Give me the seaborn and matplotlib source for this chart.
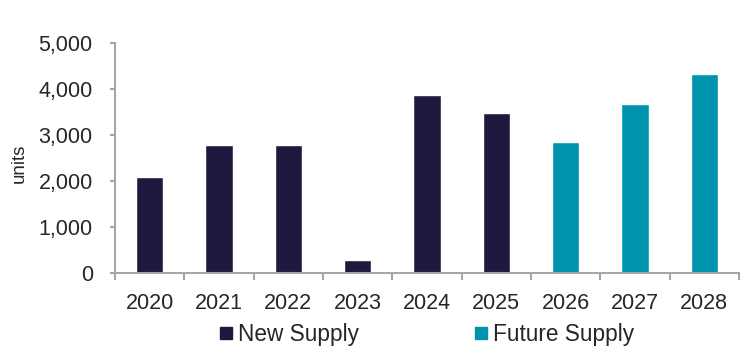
import pandas as pd
import numpy as np
import matplotlib.pyplot as plt
import seaborn as sns
from matplotlib.lines import Line2D

years = ["2020", "2021", "2022", "2023", "2024", "2025", "2026", "2027", "2028"]
units = [2100, 2800, 2800, 290, 3880, 3485, 2855, 3680, 4335]
supply = ["New Supply"] * 6 + ["Future Supply"] * 3
colors = {"New Supply": "#1F1940", "Future Supply": "#0093AE"}

df = pd.DataFrame({"year": years, "units": units, "type": supply})

sns.set_style("white")
plt.rcParams["font.family"] = ["Liberation Sans", "DejaVu Sans"]

fig = plt.figure(figsize=(7.53, 3.6), dpi=100)
ax = fig.add_axes([0.1527, 0.2408, 0.8287, 0.6389])
sns.barplot(data=df, x="year", y="units", hue="type", palette=colors,
            dodge=False, width=0.39, saturation=1, ax=ax, legend=False)

ax.set_xlim(-0.5, 8.5)
ax.set_ylim(0, 5000)
ax.set_yticks(range(0, 5001, 1000))
ax.set_yticklabels([f"{v:,}" for v in range(0, 5001, 1000)], fontsize=15.5, color="#262626")
ax.tick_params(axis="y", left=True, length=3.6, width=1.5, color="#A6A6A6", direction="out", pad=12.4)

# ticks at category boundaries, labels at centres
ax.set_xticks(np.arange(-0.5, 9, 1))
ax.set_xticklabels([])
ax.set_xticks(range(len(years)), minor=True)
ax.set_xticklabels(years, minor=True, fontsize=15.5, color="#262626")
ax.tick_params(axis="x", which="major", bottom=True, length=5, width=1.5, color="#A6A6A6", direction="out")
ax.tick_params(axis="x", which="minor", length=0, pad=14)

ax.set_xlabel("")
ax.set_ylabel("units", fontsize=13.5, color="#262626")
ax.yaxis.set_label_coords(-0.140, 0.478)

for s in ["top", "right"]:
    ax.spines[s].set_visible(False)
for s in ["left", "bottom"]:
    ax.spines[s].set_color("#A6A6A6")
    ax.spines[s].set_linewidth(1.5)

handles = [Line2D([], [], marker="s", linestyle="", markersize=8.6, color=colors[k]) for k in colors]
fig.legend(handles, list(colors.keys()), loc="center", bbox_to_anchor=(0.567, 0.072),
           ncol=2, frameon=False, fontsize=16.3, handlelength=0.55, handletextpad=0.27,
           columnspacing=5.1, labelcolor="#262626")

fig.savefig("out.png", dpi=100)
